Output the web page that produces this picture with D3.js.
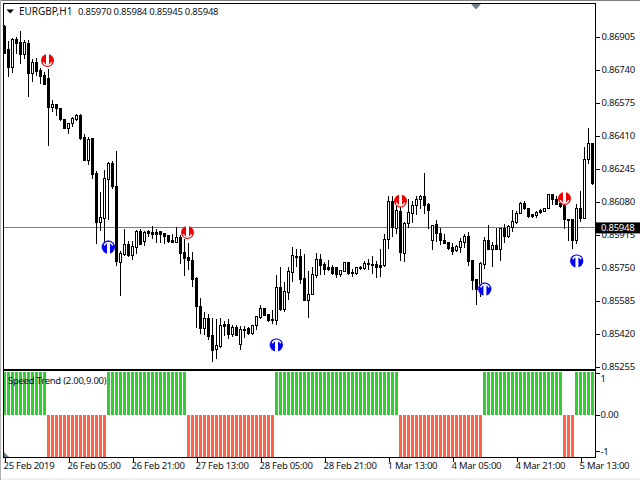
<!DOCTYPE html>
<html>
<head>
<meta charset="utf-8">
<script src="https://cdn.jsdelivr.net/npm/d3@7"></script>
<style>
html,body{margin:0;padding:0;background:#fff;overflow:hidden}
svg{display:block}
text{font-family:"Noto Sans",sans-serif;font-size:9.5px;letter-spacing:-0.25px;fill:#0c1220}
text.wide{font-size:10px;letter-spacing:0}
</style>
</head>
<body>
<svg id="c" width="640" height="480"></svg>
<script>
const symbolName = "EURGBP,H1";
const quoteText = "0.85970 0.85984 0.85945 0.85948";
const indicatorName = "Speed Trend (2.00,9.00)";
const lastPrice = 0.85948;
const pointSize = 0.00001;

const open = [86955,86840,86750,86890,86875,86815,86870,86720,86775,86735,86710,86695,86550,86565,86545,86490,86445,86470,86490,86510,86400,86285,86395,86220,85975,85995,86190,86270,86155,85775,85815,85865,85810,85850,85930,85880,85930,85925,85925,85930,85920,85910,85885,85875,85900,85825,85800,85785,85695,85555,85445,85495,85410,85340,85355,85465,85465,85415,85450,85365,85440,85445,85420,85460,85500,85545,85515,85490,85485,85650,85540,85625,85725,85805,85805,85695,85585,85615,85710,85790,85765,85750,85750,85750,85715,85730,85775,85725,85720,85750,85745,85770,85765,85765,85760,85760,85890,86080,85945,86030,85820,85970,86020,86060,86090,86105,86065,85885,85965,85920,85885,85875,85850,85835,85850,85875,85905,85785,85690,85640,85765,85885,85840,85860,85840,85945,85905,85950,85975,86020,86070,86045,86015,86010,86035,86030,86045,86115,86090,86070,86060,85990,85990,85885,86045,85995,86290,86370];
const close = [86820,86750,86890,86870,86815,86875,86720,86775,86730,86705,86665,86550,86565,86545,86490,86445,86470,86495,86510,86395,86285,86390,86215,85975,86000,86195,86270,86155,85780,85820,85865,85810,85855,85930,85865,85925,85920,85915,85915,85915,85905,85880,85875,85900,85820,85795,85785,85690,85555,85445,85495,85405,85335,85360,85460,85455,85415,85450,85410,85440,85435,85420,85460,85505,85545,85510,85485,85485,85650,85540,85630,85730,85810,85800,85690,85585,85615,85715,85790,85760,85740,85740,85720,85715,85735,85775,85720,85720,85750,85745,85770,85765,85760,85750,85750,85890,86080,85950,86035,85825,85970,86025,86060,86090,86105,86060,86035,85960,85920,85885,85870,85845,85830,85855,85880,85905,85780,85685,85640,85770,85885,85840,85860,85840,85945,85905,85955,85980,86020,86070,86045,86005,86005,86025,86025,86045,86115,86090,86065,86055,85990,85985,85885,86045,85995,86290,86370,86170];
const high = [86965,86885,86900,86905,86935,86890,86890,86795,86800,86750,86730,86745,86590,86570,86550,86495,86475,86505,86520,86520,86420,86405,86395,86235,86130,86240,86280,86285,86335,85835,85945,85885,85885,85940,85945,85935,85940,85960,85945,85935,85925,85915,85920,85955,85915,85895,85875,85830,85705,85600,85530,85520,85500,85495,85500,85485,85495,85465,85465,85460,85460,85455,85465,85510,85565,85550,85520,85540,85715,85755,85680,85755,85855,85845,85845,85820,85735,85755,85825,85820,85780,85790,85765,85750,85740,85780,85780,85745,85755,85760,85785,85795,85810,85785,85845,85920,86110,86110,86105,86100,85980,86095,86085,86110,86115,86225,86075,85965,85990,85950,85920,85880,85875,85865,85900,85920,85930,85790,85695,85780,85905,85965,85880,85950,85950,85970,85965,86040,86035,86080,86085,86050,86020,86035,86045,86050,86115,86120,86110,86115,86065,85990,85990,86070,86135,86355,86450,86370];
const low = [86820,86705,86725,86820,86770,86795,86605,86680,86710,86670,86665,86360,86530,86510,86485,86445,86420,86455,86485,86390,86285,86265,86195,85870,85935,85880,85990,86145,85760,85610,85810,85805,85790,85820,85865,85860,85905,85895,85875,85875,85870,85875,85875,85875,85770,85710,85740,85655,85450,85420,85415,85390,85280,85295,85350,85410,85395,85405,85410,85340,85400,85415,85415,85440,85495,85510,85480,85470,85465,85535,85530,85590,85680,85755,85670,85585,85500,85615,85700,85715,85715,85735,85715,85700,85705,85730,85715,85705,85715,85740,85740,85740,85720,85700,85705,85755,85845,85905,85920,85785,85780,85950,85975,86015,86045,86020,85945,85840,85880,85865,85870,85840,85815,85830,85825,85850,85760,85640,85565,85605,85745,85840,85755,85840,85785,85875,85900,85930,85970,86020,86040,86000,86000,86000,86020,86030,86045,86065,86065,86050,85945,85885,85845,85870,85980,85995,86270,86165];

const trend = [1,1,1,1,1,1,1,1,1,1,1,
  -1,-1,-1,-1,-1,-1,-1,-1,-1,-1,-1,-1,-1,-1,-1,
  1,1,1,1,1,1,1,1,1,1,1,1,1,1,1,1,1,1,1,1,
  -1,-1,-1,-1,-1,-1,-1,-1,-1,-1,-1,-1,-1,-1,-1,-1,-1,-1,-1,-1,-1,-1,
  1,1,1,1,1,1,1,1,1,1,1,1,1,1,1,1,1,1,1,1,1,1,1,1,1,1,1,1,1,1,1,
  -1,-1,-1,-1,-1,-1,-1,-1,-1,-1,-1,-1,-1,-1,-1,-1,-1,-1,-1,-1,-1,
  1,1,1,1,1,1,1,1,1,1,1,1,1,1,1,1,1,1,1,1,
  -1,-1,-1,
  1,1,1,1,1];

const sellBars = [10.75,45.75,99,140];
const sellPrices = [0.86785,0.85925,0.86082,0.86095];
const buyBars = [26,68,120.1,143.1];
const buyPrices = [0.85852,0.85363,0.85642,0.85783];

const priceTicks = [0.86905,0.86740,0.86575,0.86410,0.86245,0.86080,0.85915,0.85750,0.85585,0.85420,0.85255];
const timeBars = [0,16,32,48,64,80,96,112,128,144];
const timeLabels = ["25 Feb 2019","26 Feb 05:00","26 Feb 21:00","27 Feb 13:00","28 Feb 05:00","28 Feb 21:00","1 Mar 13:00","4 Mar 05:00","4 Mar 21:00","5 Mar 13:00"];
const indicatorTicks = [0.97,0,-0.86];
const indicatorLabels = ["1","0.00","-1"];

const svg = d3.select("#c");
const x = d3.scaleLinear().domain([0,147]).range([4.5,592.5]);
const y = d3.scaleLinear().domain([0.86905,0.85255]).range([36.5,366.5]);
const yInd = d3.scaleLinear().domain([1,-1]).range([372,457]);

// window chrome
svg.append("rect").attr("x",0).attr("y",0).attr("width",640).attr("height",1).attr("fill","#808080");
svg.append("rect").attr("x",0).attr("y",478).attr("width",640).attr("height",2).attr("fill","#f0f0f0");
svg.append("rect").attr("x",0).attr("y",0).attr("width",1).attr("height",480).attr("fill","#b0b0b0");

// shift marker
svg.append("path").attr("d","M471,4L481,4L476,9.5Z").attr("fill","#708090");

// price line
svg.append("line").attr("x1",4).attr("x2",595).attr("y1",y(lastPrice)).attr("y2",y(lastPrice))
  .attr("stroke","#708090").attr("shape-rendering","crispEdges");

// candles
const bars = d3.range(open.length);
const candles = svg.append("g").attr("shape-rendering","crispEdges");
candles.selectAll("line").data(bars).join("line")
  .attr("x1",i=>x(i)).attr("x2",i=>x(i))
  .attr("y1",i=>y(high[i]*pointSize)).attr("y2",i=>y(low[i]*pointSize))
  .attr("stroke","#000");
candles.selectAll("rect").data(bars).join("rect")
  .attr("x",i=>x(i)-1)
  .attr("width",2)
  .attr("y",i=>y(Math.max(open[i],close[i])*pointSize))
  .attr("height",i=>y(Math.min(open[i],close[i])*pointSize)-y(Math.max(open[i],close[i])*pointSize))
  .attr("fill",i=>close[i]>=open[i]?"#fff":"#000")
  .attr("stroke","#000");

// signal markers
function marker(g,color,down){
  g.append("circle").attr("r",6.5).attr("fill",color);
  const s = down?1:-1;
  g.append("rect").attr("x",-1.5).attr("width",3)
    .attr("y",down?-7:-4).attr("height",11).attr("fill","#fff");
  g.append("path").attr("d",`M-4.2,${s*1.6}A4.4,4.4 0 0 ${down?0:1} 4.2,${s*1.6}`)
    .attr("fill","none").attr("stroke","#fff").attr("stroke-width",1.4);
}
sellBars.forEach((b,k)=>{
  marker(svg.append("g").attr("transform",`translate(${x(b)},${y(sellPrices[k])})`),"#f00000",true);
});
buyBars.forEach((b,k)=>{
  const g = svg.append("g").attr("transform",`translate(${x(b)},${y(buyPrices[k])})`);
  g.append("circle").attr("r",6.5).attr("cx",-0.7).attr("fill","#8a70ff");
  marker(g,"#0000f0",false);
});

// indicator
svg.append("g").attr("shape-rendering","crispEdges").selectAll("rect").data(bars).join("rect")
  .attr("x",i=>x(i)-1.5).attr("width",3)
  .attr("y",i=>trend[i]>0?yInd(1):yInd(0))
  .attr("height",i=>trend[i]>0?yInd(0)-yInd(1):yInd(-1)-yInd(0))
  .attr("fill",i=>trend[i]>0?"#32cd32":"#ff6347");
svg.append("path").attr("d","M4,457L4,452L9,457Z").attr("fill","#708090");

// frame
const frame = svg.append("g").attr("fill","none").attr("stroke","#000").attr("shape-rendering","crispEdges");
frame.append("rect").attr("x",3.5).attr("y",3.5).attr("width",592).attr("height",366);
frame.append("rect").attr("x",3.5).attr("y",370.5).attr("width",592).attr("height",87);

// price axis
const ay = svg.append("g").attr("transform","translate(595.5,0)")
  .call(d3.axisRight(y).tickValues(priceTicks).tickFormat(d3.format(".5f")).tickSize(4).tickPadding(2));
ay.select(".domain").remove();
ay.selectAll("line").attr("shape-rendering","crispEdges");
ay.selectAll("text").attr("x",6).attr("dy","0.35em");

// last price tag
svg.append("rect").attr("x",596).attr("y",y(lastPrice)-5.5).attr("width",44).attr("height",11).attr("fill","#000");
svg.append("text").attr("x",601).attr("y",y(lastPrice)).attr("dy","0.35em").style("fill","#fff").text(lastPrice.toFixed(5));

// indicator axis
const ai = svg.append("g").attr("transform","translate(595.5,0)")
  .call(d3.axisRight(yInd).tickValues(indicatorTicks).tickFormat((d,i)=>indicatorLabels[i]).tickSize(4).tickPadding(2));
ai.select(".domain").remove();
ai.selectAll("line").attr("shape-rendering","crispEdges");
ai.selectAll("text").attr("x",5).attr("dy","0.35em");
ai.selectAll("text").filter((d,i)=>i===0).attr("y",5);

// time axis
const ax = svg.append("g").attr("transform","translate(0,457.5)")
  .call(d3.axisBottom(x).tickValues(timeBars).tickFormat((d,i)=>timeLabels[i]).tickSize(4).tickPadding(2));
ax.select(".domain").remove();
ax.selectAll("line").attr("shape-rendering","crispEdges");
ax.selectAll("text").attr("text-anchor","start").attr("x",-1.5).attr("y",5).attr("dy","0.71em");

// headers
svg.append("path").attr("d","M6.5,9.5L14,9.5L10.2,13.5Z").attr("fill","#000");
svg.append("text").attr("class","wide").attr("x",19).attr("y",15).text(symbolName);
svg.append("text").attr("x",78).attr("y",15).text(quoteText);
svg.append("text").attr("x",8).attr("y",384).text(indicatorName);
</script>
</body>
</html>
